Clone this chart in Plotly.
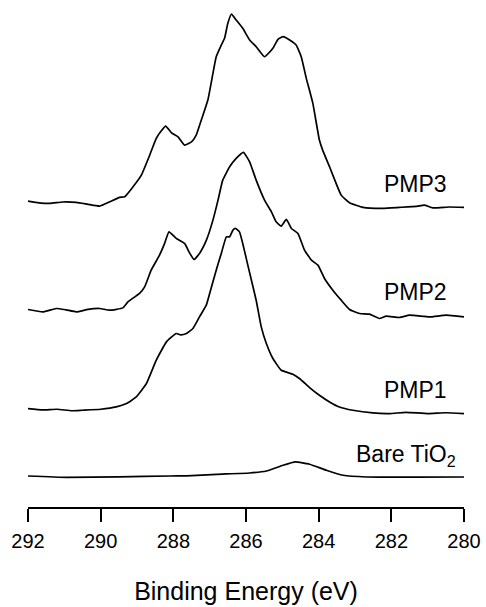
import plotly.graph_objects as go

# C 1s XPS spectra, stacked (intensity in arbitrary units, offsets included)
bare_energy = [292.00, 290.94, 289.50, 288.10, 287.64, 286.80, 285.90, 285.44,
               284.98, 284.64, 284.25, 283.79, 283.33, 282.69, 280.00]
bare_intensity = [31.0, 29.6, 30.2, 31.0, 31.2, 32.7, 34.0, 36.0,
                  41.7, 45.0, 42.7, 36.7, 31.7, 30.0, 30.0]

pmp1_energy = [292.00, 291.60, 291.20, 290.80, 290.50, 290.00, 289.57, 289.29,
               289.02, 288.74, 288.47, 288.19, 287.92, 287.80, 287.64, 287.46,
               287.28, 287.09, 287.00, 286.82, 286.68, 286.54, 286.45, 286.36,
               286.29, 286.18, 286.09, 285.95, 285.72, 285.58, 285.44, 285.26,
               285.03, 284.71, 284.53, 284.25, 283.98, 283.70, 283.43, 283.06,
               282.51, 282.05, 281.60, 281.00, 280.50, 280.00]
pmp1_intensity = [98.4, 97.0, 97.7, 96.2, 96.7, 97.7, 100.0, 103.4,
                  110.0, 123.4, 146.7, 165.0, 173.4, 172.0, 173.4, 178.4,
                  190.0, 202.0, 213.4, 236.7, 253.4, 270.0, 270.0, 276.7,
                  278.4, 275.0, 263.4, 241.7, 206.7, 180.0, 163.4, 148.4,
                  136.7, 132.7, 128.4, 119.4, 111.7, 105.0, 100.0, 96.7,
                  94.0, 93.4, 94.6, 93.4, 94.2, 93.4]

pmp2_energy = [292.00, 291.59, 291.22, 290.95, 290.67, 290.35, 290.03, 289.75,
               289.39, 289.25, 288.93, 288.79, 288.61, 288.38, 288.24, 288.12,
               287.92, 287.69, 287.57, 287.43, 287.28, 287.09, 286.91, 286.77,
               286.64, 286.45, 286.27, 286.07, 285.90, 285.72, 285.49, 285.30,
               285.17, 285.03, 284.89, 284.75, 284.57, 284.39, 284.20, 284.02,
               283.84, 283.61, 283.38, 283.15, 282.87, 282.60, 282.33, 282.14,
               281.78, 281.50, 280.95, 280.49, 280.00]
pmp2_intensity = [197.4, 195.0, 198.4, 197.0, 195.0, 197.5, 198.4, 196.7,
                  199.0, 205.0, 213.4, 220.0, 236.7, 251.7, 263.4, 275.0,
                  268.4, 263.4, 255.0, 247.4, 253.4, 266.7, 286.7, 306.7,
                  326.7, 340.0, 348.4, 354.4, 345.0, 326.7, 306.7, 295.0,
                  285.0, 280.7, 287.4, 278.4, 273.4, 256.7, 246.7, 241.7,
                  228.4, 216.7, 206.7, 197.4, 193.4, 192.7, 188.4, 190.7,
                  189.4, 191.7, 190.0, 191.7, 190.0]

pmp3_energy = [292.00, 291.70, 291.40, 291.05, 290.67, 290.35, 290.03, 289.75,
               289.48, 289.34, 289.11, 288.88, 288.65, 288.47, 288.33, 288.21,
               288.05, 287.87, 287.69, 287.50, 287.37, 287.23, 287.05, 286.91,
               286.82, 286.68, 286.59, 286.50, 286.40, 286.27, 286.09, 285.90,
               285.72, 285.49, 285.26, 285.12, 284.98, 284.80, 284.62, 284.48,
               284.34, 284.16, 283.98, 283.89, 283.70, 283.52, 283.38, 283.15,
               282.78, 282.23, 281.78, 281.30, 281.09, 280.86, 280.40, 280.00]
pmp3_intensity = [305.7, 304.0, 303.4, 304.8, 304.4, 302.5, 300.7, 305.0,
                  309.4, 310.0, 320.0, 331.7, 351.7, 368.4, 376.0, 380.7,
                  374.0, 370.0, 361.7, 365.0, 371.7, 386.7, 406.7, 433.4,
                  450.0, 461.7, 468.4, 483.4, 492.7, 486.7, 478.4, 466.7,
                  460.0, 450.0, 458.4, 467.4, 470.0, 466.7, 461.7, 450.0,
                  428.4, 403.4, 366.7, 356.7, 340.0, 323.4, 311.7, 304.0,
                  299.4, 298.4, 299.4, 300.5, 301.7, 299.0, 299.8, 299.4]

series_names = ["Bare TiO<sub>2</sub>", "PMP1", "PMP2", "PMP3"]
series_energy = [bare_energy, pmp1_energy, pmp2_energy, pmp3_energy]
series_intensity = [bare_intensity, pmp1_intensity, pmp2_intensity, pmp3_intensity]

tick_values = [292, 290, 288, 286, 284, 282, 280]

FONT = "Liberation Sans, Arial, Helvetica, sans-serif"

fig = go.Figure()
for name, e, i in zip(series_names, series_energy, series_intensity):
    fig.add_trace(go.Scatter(x=e, y=i, mode="lines", name=name,
                             line=dict(color="black", width=1.7,
                                       shape="spline", smoothing=0.4),
                             showlegend=False, hoverinfo="skip"))

# Spectrum labels at the right-hand side
label_pos = [(283.04, 51.7), (282.26, 116.7), (282.26, 214.7), (282.26, 322.7)]
for name, (lx, ly) in zip(series_names, label_pos):
    fig.add_annotation(x=lx, y=ly, xref="x", yref="y", text=name,
                       showarrow=False, xanchor="left", yanchor="middle",
                       font=dict(family=FONT, size=23, color="black"))

fig.update_layout(
    width=486, height=607,
    margin=dict(l=28.3, r=21.7, t=0, b=100.3),
    paper_bgcolor="white", plot_bgcolor="white",
    font=dict(family=FONT, color="black"),
    xaxis=dict(range=[292, 280], tickvals=tick_values,
               showline=True, linecolor="black", linewidth=1.6,
               ticks="outside", ticklen=13, tickwidth=1.6, tickcolor="black",
               ticklabelstandoff=2,
               tickfont=dict(family=FONT, size=20, color="black"),
               showgrid=False, zeroline=False,
               title=dict(text="Binding Energy (eV)",
                          font=dict(family=FONT, size=25, color="black"),
                          standoff=32)),
    yaxis=dict(range=[0, 506.7], visible=False, showgrid=False, zeroline=False),
)

fig.write_html("out.html")
